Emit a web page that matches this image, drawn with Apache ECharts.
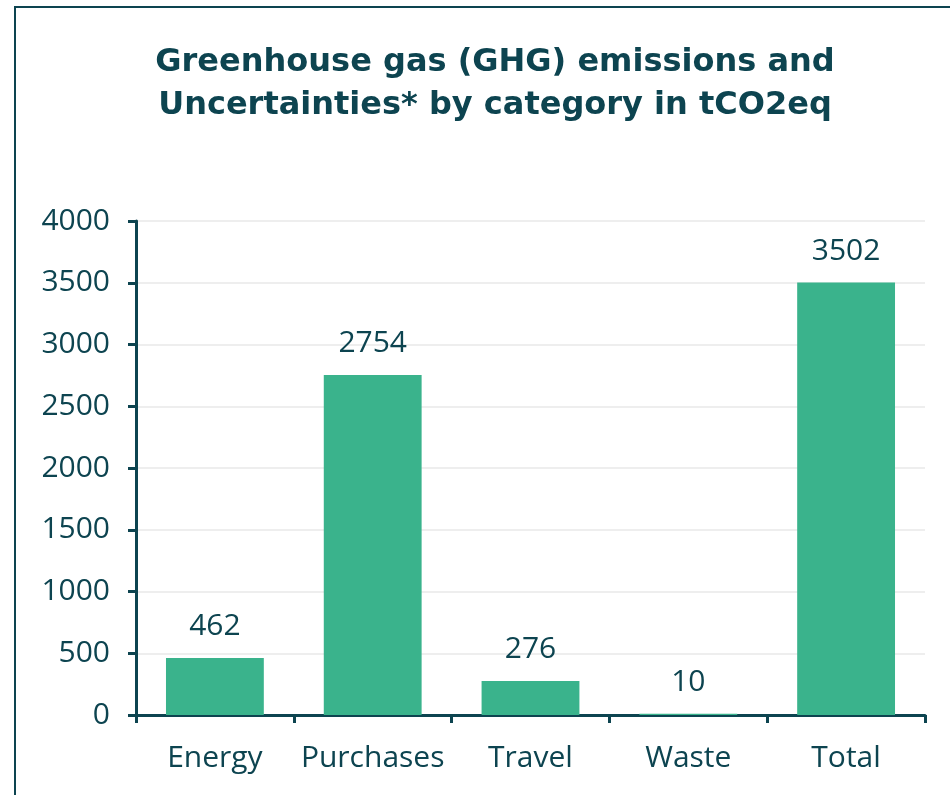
<!DOCTYPE html>
<html>
<head>
<meta charset="utf-8">
<script src="https://cdn.jsdelivr.net/npm/echarts@6/dist/echarts.min.js"></script>
<style>
  html, body { margin: 0; padding: 0; background: #fff; }
  #main { width: 950px; height: 795px; }
</style>
</head>
<body>
<div id="main"></div>
<script>
var categories = ['Energy', 'Purchases', 'Travel', 'Waste', 'Total'];
var emissions = [462, 2754, 276, 10, 3502];
var yTicks = [0, 500, 1000, 1500, 2000, 2500, 3000, 3500, 4000];

var dark = '#0d4450';
var barColor = '#3ab38c';

var myChart = echarts.init(document.getElementById('main'));

var option = {
    backgroundColor: '#fff',
    animation: false,
    title: {
        text: 'Greenhouse gas (GHG) emissions and\nUncertainties* by category in tCO2eq',
        left: 490,
        top: 36,
        textAlign: 'center',
        textStyle: {
            color: dark,
            fontFamily: 'DejaVu Sans',
            fontWeight: 'bold',
            fontSize: 32,
            lineHeight: 43
        }
    },
    graphic: [{
        type: 'rect',
        shape: { x: 15, y: 7, width: 1000, height: 1000 },
        style: { fill: 'none', stroke: dark, lineWidth: 2 },
        silent: true
    }],
    grid: {
        left: 136,
        right: 25,
        top: 221,
        bottom: 80
    },
    xAxis: {
        type: 'category',
        data: categories,
        axisLine: { lineStyle: { color: dark, width: 3 } },
        axisTick: { show: true, length: 8, lineStyle: { color: dark, width: 3 } },
        axisLabel: {
            interval: 0,
            color: dark,
            fontFamily: 'Open Sans',
            fontSize: 30,
            margin: 28
        }
    },
    yAxis: {
        type: 'value',
        min: yTicks[0],
        max: yTicks[yTicks.length - 1],
        interval: yTicks[1] - yTicks[0],
        axisLine: { show: true, lineStyle: { color: dark, width: 3 } },
        axisTick: { show: true, length: 8, lineStyle: { color: dark, width: 3 } },
        axisLabel: {
            color: dark,
            fontFamily: 'Open Sans',
            fontSize: 30,
            margin: 26,
            formatter: function (v) { return String(v); }
        },
        splitLine: { lineStyle: { color: '#eeeeee', width: 2 } }
    },
    series: [{
        type: 'bar',
        data: emissions,
        barWidth: '62%',
        itemStyle: { color: barColor },
        label: {
            show: true,
            position: 'top',
            distance: 16,
            color: dark,
            fontFamily: 'Open Sans',
            fontSize: 30
        }
    }]
};

myChart.setOption(option);
</script>
</body>
</html>
